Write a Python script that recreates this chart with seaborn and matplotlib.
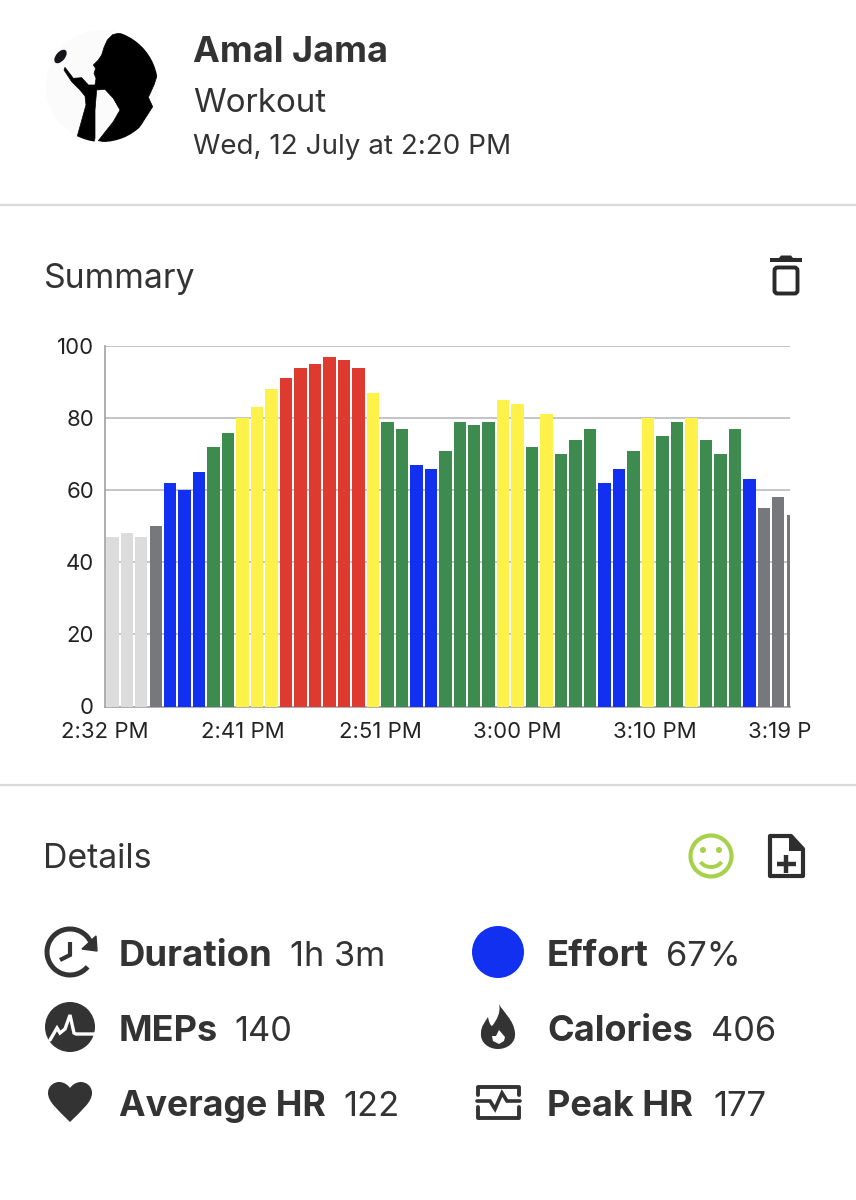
import numpy as np
import pandas as pd
import matplotlib
matplotlib.use("Agg")
import matplotlib.pyplot as plt
from matplotlib.patches import Circle, Ellipse, Polygon, PathPatch, Arc, FancyBboxPatch, Rectangle
from matplotlib.path import Path
import seaborn as sns

heart_rate = [47, 48, 47, 50, 62, 60, 65, 72, 76, 80, 83, 88, 91, 94, 95, 97, 96, 94, 87, 79, 77, 67, 66, 71,
              79, 78, 79, 85, 84, 72, 81, 70, 74, 77, 62, 66, 71, 80, 75, 79, 80, 74, 70, 77, 63, 55, 58, 53]
zones = ["rest"] * 3 + ["warm"] + ["blue"] * 3 + ["green"] * 2 + ["yellow"] * 3 + ["red"] * 6 + ["yellow"] + \
        ["green"] * 2 + ["blue"] * 2 + ["green"] * 4 + ["yellow"] * 2 + ["green"] + ["yellow"] + ["green"] * 3 + \
        ["blue"] * 2 + ["green"] + ["yellow"] + ["green"] * 2 + ["yellow"] + ["green"] * 3 + ["blue"] + ["warm"] * 3
zone_colors = {"rest": "#DCDCDC", "warm": "#77787C", "blue": "#1130F0", "green": "#3D8B4F",
               "yellow": "#FDF14A", "red": "#DF3A30"}
y_ticks = [0, 20, 40, 60, 80, 100]
time_positions = [-0.5, 9, 18.5, 28, 37.5, 46.1]
time_labels = ["2:32 PM", "2:41 PM", "2:51 PM", "3:00 PM", "3:10 PM", "3:19 P"]

INK = "#333333"
W, H = 856, 1200

sns.set_theme(style="white")
plt.rcParams["font.family"] = ["Inter", "DejaVu Sans"]

fig = plt.figure(figsize=(W / 100, H / 100), dpi=100, facecolor="white")

# ---------- chart ----------
ax = fig.add_axes([105 / W, 1 - 706.5 / H, (790 - 105) / W, (706.5 - 346) / H])
df = pd.DataFrame({"minute": np.arange(len(heart_rate)), "hr": heart_rate, "zone": zones})
sns.barplot(data=df, x="minute", y="hr", hue="zone", palette=zone_colors, dodge=False, width=0.86,
            native_scale=True, saturation=1, legend=False, ax=ax, zorder=3, linewidth=0, edgecolor="none")
ax.set_xlim(-0.504, 46.81)
ax.set_ylim(0, 100)
ax.set_yticks(y_ticks)
ax.set_xticks(time_positions)
ax.set_xticklabels(time_labels)
ax.set_xlabel("")
ax.set_ylabel("")
ax.tick_params(axis="both", length=0, labelsize=15.9, labelcolor="#222222")
ax.tick_params(axis="x", pad=11)
ax.tick_params(axis="y", pad=8)
ax.yaxis.grid(True, color="#BABABE", lw=1.2, zorder=0)
ax.set_axisbelow(True)
for s in ["top", "right"]:
    ax.spines[s].set_visible(False)
for s in ["left", "bottom"]:
    ax.spines[s].set_color("#A8A8AC")
    ax.spines[s].set_linewidth(1.3)

# ---------- page furniture in pixel coordinates ----------
ov = fig.add_axes([0, 0, 1, 1], zorder=5)
ov.set_xlim(0, W)
ov.set_ylim(H, 0)
ov.axis("off")
ov.patch.set_alpha(0)

for y in (205, 784.5):
    ov.plot([0, W], [y, y], color="#D9D9D9", lw=1.6, solid_capstyle="butt")


def txt(x, y, s, size, weight="normal", color=INK):
    ov.text(x, y, s, fontsize=size, fontweight=weight, color=color, va="baseline", ha="left")


txt(193, 62, "Amal Jama", 25.9, "bold")
txt(193, 112, "Workout", 23.9)
txt(193, 154, "Wed, 12 July at 2:20 PM", 20)
txt(43.5, 288, "Summary", 24.3)
txt(43.5, 868, "Details", 24.4)

rows = [(119, 966, "Duration", "1h 3m", 290, 26.3), (119, 1041, "MEPs", "140", 234, 26), (119, 1116, "Average HR", "122", 343, 25.7),
        (547, 966, "Effort", "67%", 666, 26.3), (547, 1041, "Calories", "406", 711, 26), (547, 1116, "Peak HR", "177", 713, 26)]
for x, y, label, val, vx, sz in rows:
    txt(x, y, label, sz, "bold")
    txt(vx, y, val, 24.8)

# avatar
ov.add_patch(Circle((102, 86), 56, fc="#FBFBFB", ec="none"))
sil = np.array([(265, 70), (248, 74), (232, 90), (222, 112), (215, 135), (205, 150), (190, 165), (197, 175), (192, 190),
                (198, 205), (195, 225), (175, 225), (155, 203), (130, 205), (105, 172), (102, 180), (125, 215), (150, 240),
                (165, 258), (168, 285), (140, 385), (190, 402), (195, 385), (195, 300), (200, 240), (225, 238), (250, 265),
                (270, 300), (250, 335), (205, 392), (250, 400), (320, 365), (368, 290), (355, 262), (372, 225), (385, 185),
                (378, 150), (362, 120), (342, 98), (320, 83), (292, 72)], float)
sil[:, 0] = 30 + sil[:, 0] / 3
sil[:, 1] = 10 + sil[:, 1] / 3
p = Polygon(sil, closed=True, fc="black", ec="black", lw=0.5)
ov.add_patch(p)
p.set_clip_path(Circle((102, 86), 56, transform=ov.transData))
ov.add_patch(Ellipse((60.5, 56.5), 9, 16, angle=40, fc="#15151C", ec="none"))

# trash icon
ov.add_patch(FancyBboxPatch((774.5, 267.5), 23, 26, boxstyle="round,pad=0,rounding_size=3", fc="none", ec="#2A2A2A", lw=2.8))
ov.add_patch(Polygon([(770, 262), (770, 258), (779, 258), (781, 255.5), (791, 255.5), (793, 258), (802, 258), (802, 262)],
                     closed=True, fc="#2A2A2A", ec="none"))

# smiley
GREEN = "#A5D14B"
ov.add_patch(Circle((711, 856), 20.5, fc="none", ec=GREEN, lw=3))
ov.add_patch(Circle((703, 850), 3, fc=GREEN, ec="none"))
ov.add_patch(Circle((719, 850), 3, fc=GREEN, ec="none"))
ov.add_patch(Arc((711, 857), 24, 20, theta1=25, theta2=155, ec=GREEN, lw=2.8))

# add-file icon
ov.add_patch(Polygon([(770, 836), (791, 836), (803, 849), (803, 876), (770, 876)], closed=True, fc="none", ec="#2E2E2E",
                     lw=3, joinstyle="round"))
ov.add_patch(Polygon([(789, 836), (803, 851), (789, 851)], closed=True, fc="#2E2E2E", ec="none"))
ov.plot([777, 796], [864, 864], color="#2E2E2E", lw=3.2, solid_capstyle="butt")
ov.plot([786.5, 786.5], [855, 873], color="#2E2E2E", lw=3.2, solid_capstyle="butt")

# duration icon
ov.add_patch(Arc((70, 952), 46, 46, theta1=-320, theta2=-25, ec=INK, lw=3.6))
ov.add_patch(Polygon([(96, 936), (97, 951), (82, 949)], closed=True, fc=INK, ec=INK, lw=1))
ov.plot([70, 70, 60], [942, 955, 960], color=INK, lw=3, solid_joinstyle="miter", solid_capstyle="butt")

# MEPs icon
ov.add_patch(Circle((70, 1027), 25, fc=INK, ec="none"))
ov.plot([50, 57, 60, 65, 70, 74, 76, 95], [1040, 1028, 1033, 1029, 1015, 1033, 1034, 1034], color="white", lw=2.4,
        solid_joinstyle="miter")

# heart icon
heart = Path([(70, 1122), (58, 1110), (48, 1102), (48, 1093), (48, 1086), (54, 1082), (59, 1082), (64, 1082), (68, 1085),
              (70, 1088), (72, 1085), (76, 1082), (81, 1082), (86, 1082), (92, 1086), (92, 1093), (92, 1102), (82, 1110),
              (70, 1122), (70, 1122)],
             [Path.MOVETO] + [Path.CURVE4] * 18 + [Path.CLOSEPOLY])
ov.add_patch(PathPatch(heart, fc=INK, ec="none"))

# effort dot
ov.add_patch(Circle((498, 952), 26, fc="#1130F0", ec="none"))

# flame icon
flame = Path([(499, 1004), (503, 1012), (514, 1020), (515, 1033), (516, 1043), (507, 1049), (498, 1049),
              (488, 1049), (480, 1042), (481, 1033), (481, 1026), (485, 1022), (488, 1017), (489, 1022), (490, 1025),
              (492, 1026), (497, 1020), (501, 1012), (499, 1004), (499, 1004)],
             [Path.MOVETO] + [Path.CURVE4] * 18 + [Path.CLOSEPOLY])
ov.add_patch(PathPatch(flame, fc=INK, ec="none"))
ov.add_patch(Polygon([(499, 1030), (505, 1037), (504, 1041), (499, 1044), (493, 1041), (492, 1036), (496, 1036)], closed=True,
                     fc="white", ec="none"))

# peak HR icon
for ys in ([1095, 1086.5, 1086.5, 1095], [1107, 1117.5, 1117.5, 1107]):
    ov.plot([478, 478, 519, 519], ys, color=INK, lw=2.8, solid_joinstyle="round")
ov.plot([477, 490, 495, 502, 507, 520], [1101, 1101, 1109, 1093, 1101, 1101], color=INK, lw=2.6, solid_joinstyle="miter")

fig.savefig("out.png", dpi=100)
